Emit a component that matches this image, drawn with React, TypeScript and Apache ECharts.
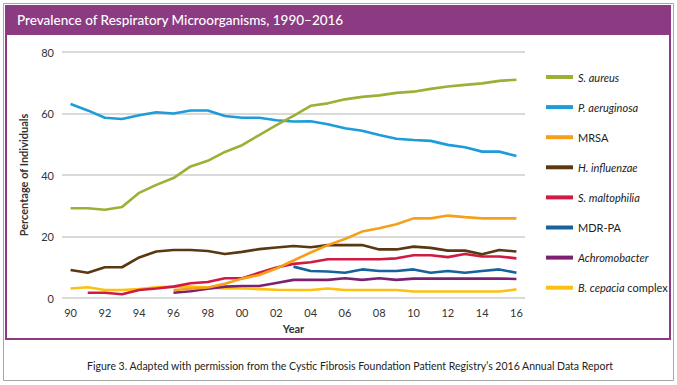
import React, { useEffect, useRef } from "react";
import * as echarts from "echarts";

const years = ["1990","1991","1992","1993","1994","1995","1996","1997","1998","1999","2000","2001","2002","2003","2004","2005","2006","2007","2008","2009","2010","2011","2012","2013","2014","2015","2016"];

const sAureus = [29.2,29.2,28.7,29.6,34.2,36.8,39.0,42.8,44.6,47.5,49.7,53.0,56.2,59.2,62.5,63.3,64.6,65.4,65.9,66.7,67.1,68.0,68.8,69.3,69.8,70.6,71.0];
const pAeruginosa = [63.1,61.0,58.6,58.2,59.4,60.4,60.0,61.0,61.0,59.2,58.6,58.6,57.8,57.4,57.5,56.5,55.2,54.4,53.0,51.8,51.4,51.1,49.8,49.0,47.6,47.6,46.2];
const mrsa = [null,null,null,null,null,null,2.6,3.0,3.4,4.6,6.3,7.5,9.6,12.2,14.8,17.2,19.2,21.6,22.7,24.0,25.9,25.9,26.8,26.3,25.9,25.9,25.9];
const hInfluenzae = [9.1,8.2,10.0,10.0,13.2,15.1,15.6,15.6,15.3,14.3,15.0,15.9,16.4,16.9,16.5,17.2,17.2,17.2,15.8,15.8,16.7,16.3,15.4,15.4,14.2,15.6,15.1];
const sMaltophilia = [null,1.7,1.7,1.2,2.6,3.1,3.7,4.8,5.2,6.4,6.4,8.2,9.9,11.1,11.6,12.6,12.6,12.6,12.6,12.9,13.9,13.9,13.3,14.3,13.5,13.5,12.9];
const mdrPa = [null,null,null,null,null,null,null,null,null,null,null,null,null,10.2,8.8,8.6,8.2,9.3,8.8,8.8,9.3,8.2,8.8,8.2,8.8,9.3,8.2];
const achromobacter = [null,null,null,null,null,null,1.7,2.2,3.0,3.7,3.9,3.9,4.9,5.9,5.9,5.9,6.4,5.9,6.4,5.9,6.3,6.3,6.3,6.3,6.3,6.3,6.2];
const bCepacia = [3.1,3.5,2.6,2.6,2.9,3.5,3.7,3.7,3.4,3.1,3.1,2.9,2.7,2.6,2.6,3.1,2.6,2.6,2.6,2.6,2.1,2.1,2.1,2.1,2.1,2.1,2.8];

const seriesNames = ["S. aureus","P. aeruginosa","MRSA","H. influenzae","S. maltophilia","MDR-PA","Achromobacter","B. cepacia complex"];
const seriesColors = ["#9bb034","#1c9cd8","#f6a01a","#5a3912","#cf1a44","#15629f","#7b2170","#fdc010"];
const seriesData = [sAureus,pAeruginosa,mrsa,hInfluenzae,sMaltophilia,mdrPa,achromobacter,bCepacia];
const legendLabels: Record<string,string> = {
  "S. aureus": "{i|S. aureus}",
  "P. aeruginosa": "{i|P. aeruginosa}",
  "MRSA": "{n|MRSA}",
  "H. influenzae": "{i|H. influenzae}",
  "S. maltophilia": "{i|S. maltophilia}",
  "MDR-PA": "{n|MDR-PA}",
  "Achromobacter": "{i|Achromobacter}",
  "B. cepacia complex": "{i|B. cepacia} {n|complex}",
};

const titleText = "Prevalence of Respiratory Microorganisms, 1990–2016";
const captionText = "Figure 3. Adapted with permission from the Cystic Fibrosis Foundation Patient Registry’s 2016 Annual Data Report";
const purple = "#8c3a82";
const font = "Lato";

export default function App() {
  const ref = useRef<HTMLDivElement>(null);
  useEffect(() => {
    if (!ref.current) return;
    const chart = echarts.init(ref.current, null, { renderer: "svg" });
    chart.setOption({
      animation: false,
      backgroundColor: "#ffffff",
      textStyle: { fontFamily: font },
      grid: { left: 62, right: 152, top: 52, bottom: 87, containLabel: false },
      xAxis: {
        type: "category",
        data: years,
        boundaryGap: true,
        axisLine: { show: false },
        axisTick: { show: false },
        axisLabel: {
          interval: 1,
          margin: 9,
          fontSize: 11,
          color: "#333",
          fontFamily: font,
          formatter: (v: string) => v.slice(2),
        },
        name: "Year",
        nameLocation: "middle",
        nameGap: 24,
        nameTextStyle: { fontSize: 11, fontWeight: "bold", color: "#333", fontFamily: font },
      },
      yAxis: {
        type: "value",
        min: 0,
        max: 80,
        interval: 20,
        axisLine: { show: false },
        axisTick: { show: false },
        axisLabel: { margin: 8, fontSize: 11, color: "#333", fontFamily: font },
        splitLine: { lineStyle: { color: "#d9d9d9", width: 2 } },
        name: "Percentage of Individuals",
        nameLocation: "middle",
        nameGap: 33,
        nameTextStyle: { fontSize: 11, fontWeight: "bold", color: "#333", fontFamily: font },
      },
      legend: {
        orient: "vertical",
        left: 541,
        top: 65,
        itemWidth: 27,
        itemHeight: 4,
        itemGap: 16.1,
        icon: "rect",
        data: seriesNames,
        formatter: (name: string) => legendLabels[name],
        textStyle: {
          color: "#222",
          fontSize: 11,
          lineHeight: 14,
          fontFamily: font,
          rich: {
            i: { fontStyle: "italic", fontSize: 11, lineHeight: 14, color: "#222", fontFamily: font },
            n: { fontSize: 11, lineHeight: 14, color: "#222", fontFamily: font },
          },
        },
      },
      series: seriesNames.map((name, i) => ({
        name,
        type: "line",
        data: seriesData[i],
        showSymbol: false,
        symbol: "none",
        connectNulls: false,
        itemStyle: { color: seriesColors[i] },
        lineStyle: { color: seriesColors[i], width: 2.6 },
        z: 10 - i,
      })),
      graphic: [
        { type: "rect", shape: { x: 3.5, y: 3.5, width: 670, height: 377 }, style: { fill: "none", stroke: "#a6a6a6", lineWidth: 1 }, z: 1 },
        { type: "rect", shape: { x: 6, y: 6, width: 664, height: 333 }, style: { fill: "none", stroke: purple, lineWidth: 2 }, z: 1 },
        { type: "rect", shape: { x: 5, y: 5, width: 666, height: 30 }, style: { fill: purple }, z: 2 },
        { type: "text", x: 17, y: 20, style: { text: titleText, fill: "#ffffff", font: `500 13.5px ${font}`, textVerticalAlign: "middle" }, z: 3 },
        { type: "text", x: 350, y: 366, style: { text: captionText, fill: "#222", font: `10.5px ${font}`, textAlign: "center", textVerticalAlign: "middle" }, z: 3 },
      ],
    });
    return () => chart.dispose();
  }, []);
  return <div ref={ref} style={{ position: "fixed", left: 0, top: 0, width: 677, height: 385 }} />;
}
